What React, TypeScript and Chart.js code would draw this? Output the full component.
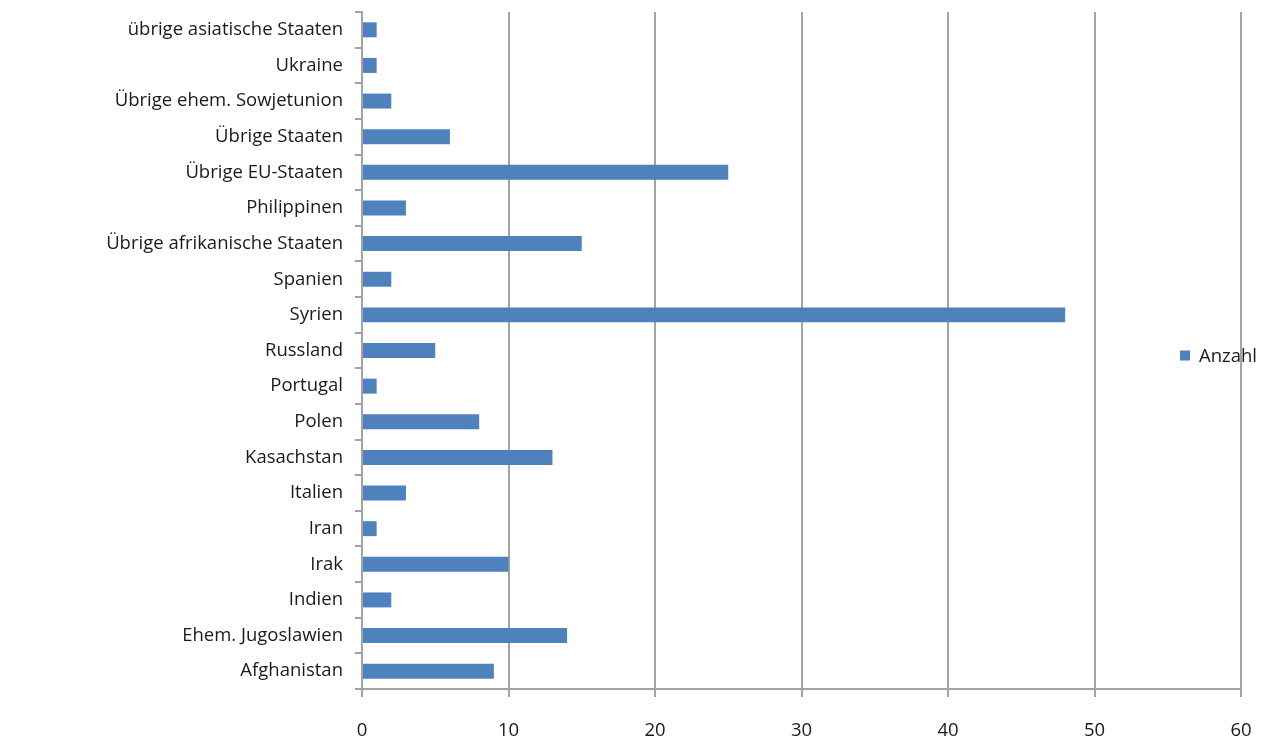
import React, { useEffect, useRef } from "react";
import { Chart, registerables } from "chart.js";

Chart.register(...registerables);

// Herkunftsländer, von oben nach unten wie im Diagramm
const categories: string[] = [
  "übrige asiatische Staaten",
  "Ukraine",
  "Übrige ehem. Sowjetunion",
  "Übrige Staaten",
  "Übrige EU-Staaten",
  "Philippinen",
  "Übrige afrikanische Staaten",
  "Spanien",
  "Syrien",
  "Russland",
  "Portugal",
  "Polen",
  "Kasachstan",
  "Italien",
  "Iran",
  "Irak",
  "Indien",
  "Ehem. Jugoslawien",
  "Afghanistan",
];

const anzahl: number[] = [1, 1, 2, 6, 25, 3, 15, 2, 48, 5, 1, 8, 13, 3, 1, 10, 2, 14, 9];

const seriesLabel = "Anzahl";
const xTicks: number[] = [0, 10, 20, 30, 40, 50, 60];

const BAR_COLOR = "#4f81bd";
const GRID_COLOR = "#a3a3a3";
const TEXT_COLOR = "#1a1a1a";
const FONT_FAMILY = "'Open Sans', 'Liberation Sans', sans-serif";
const FONT_SIZE = 18.5;

// Legende rechts, vertikal mittig auf Höhe des Diagrammbereichs
const sideLegend = {
  id: "sideLegend",
  afterDraw(chart: Chart) {
    const { ctx, chartArea } = chart;
    const ds = chart.data.datasets[0];
    const cy = (chartArea.top + chartArea.bottom) / 2 + 5;
    const x = chartArea.right - 61;
    ctx.save();
    ctx.fillStyle = ds.backgroundColor as string;
    ctx.fillRect(x, cy - 5, 10, 10);
    ctx.fillStyle = TEXT_COLOR;
    ctx.font = `${FONT_SIZE}px ${FONT_FAMILY}`;
    ctx.textBaseline = "middle";
    ctx.textAlign = "left";
    ctx.fillText(String(ds.label), x + 19, cy + 1);
    ctx.restore();
  },
};

export default function App() {
  const canvasRef = useRef<HTMLCanvasElement | null>(null);

  useEffect(() => {
    document.body.style.margin = "0";
    const canvas = canvasRef.current;
    if (!canvas) return;

    const chart = new Chart(canvas, {
      type: "bar",
      data: {
        labels: categories,
        datasets: [
          {
            label: seriesLabel,
            data: anzahl,
            backgroundColor: BAR_COLOR,
            borderWidth: 0,
            barPercentage: 0.42,
            categoryPercentage: 1,
          },
        ],
      },
      options: {
        indexAxis: "y",
        responsive: false,
        animation: false,
        maintainAspectRatio: false,
        layout: { padding: { top: 12, right: 29, left: 0, bottom: 0 } },
        plugins: {
          legend: { display: false },
          tooltip: { enabled: false },
        },
        scales: {
          x: {
            min: 0,
            max: 60,
            afterBuildTicks(scale: any) {
              scale.ticks = xTicks.map((v) => ({ value: v }));
            },
            afterFit(scale: any) {
              scale.height = 53;
              scale.paddingLeft = 0;
              scale.paddingRight = 0;
            },
            grid: {
              color: GRID_COLOR,
              lineWidth: 2,
              tickLength: 8,
              drawOnChartArea: true,
            },
            border: { display: true, color: GRID_COLOR, width: 2 },
            ticks: {
              color: TEXT_COLOR,
              padding: 23,
              font: { family: FONT_FAMILY, size: FONT_SIZE },
            },
          },
          y: {
            type: "category",
            offset: true,
            afterFit(scale: any) {
              scale.width = 362;
              scale.paddingTop = 0;
              scale.paddingBottom = 0;
            },
            grid: {
              offset: true,
              drawOnChartArea: false,
              color: GRID_COLOR,
              lineWidth: 2,
              tickLength: 7,
            },
            border: { display: true, color: GRID_COLOR, width: 2 },
            ticks: {
              color: TEXT_COLOR,
              padding: 12,
              autoSkip: false,
              font: { family: FONT_FAMILY, size: FONT_SIZE },
            },
          },
        },
      },
      plugins: [sideLegend],
    });

    return () => chart.destroy();
  }, []);

  return (
    <div style={{ width: 1270, height: 742, background: "#ffffff" }}>
      <canvas ref={canvasRef} width={1270} height={742} style={{ display: "block" }} />
    </div>
  );
}
